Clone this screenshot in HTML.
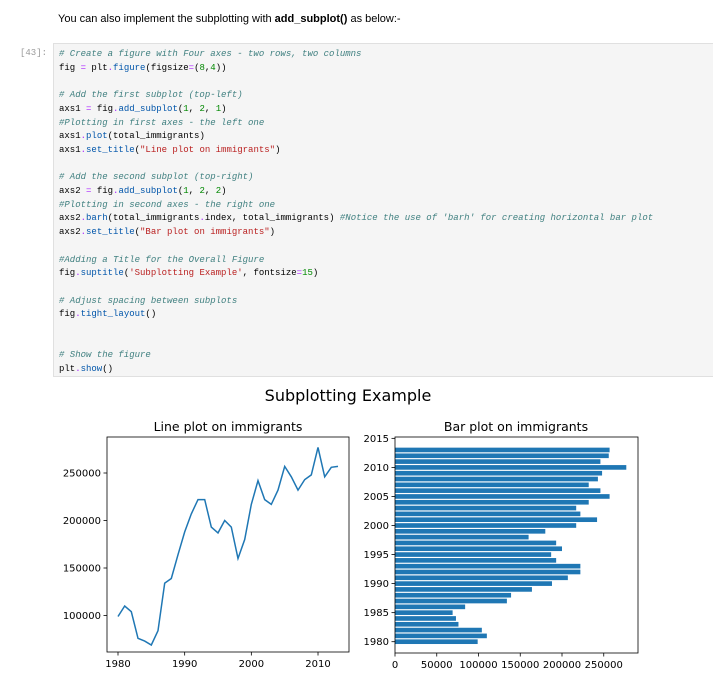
<!DOCTYPE html>
<html><head><meta charset="utf-8">
<style>
body{margin:0;width:713px;height:684px;background:#fff;overflow:hidden;position:relative;font-family:"Liberation Sans",sans-serif}
.intro{position:absolute;left:58px;top:13px;font-size:11px;color:#000}
.prompt{position:absolute;left:20px;top:48px;font:9px "Liberation Mono",monospace;color:#999}
.code{position:absolute;left:53px;top:43px;width:662px;height:334px;background:#f5f5f5;border:1px solid #e0e0e0;box-sizing:border-box}
pre{margin:0;position:absolute;left:5px;top:4px;font:9px/13.7px "Liberation Mono",monospace;color:#000}
.c{color:#408080;font-style:italic}.s{color:#ba2121}.n{color:#008800}.f{color:#0055aa}.o{color:#aa22ff}
svg{position:absolute;left:0;top:0}
</style></head><body>
<div class="intro">You can also implement the subplotting with <b>add_subplot()</b> as below:-</div>
<div class="prompt">[43]:</div>
<div class="code"><pre><span class="c"># Create a figure with Four axes - two rows, two columns</span>
fig <span class="o">=</span> plt<span class="o">.</span><span class="f">figure</span>(figsize<span class="o">=</span>(<span class="n">8</span>,<span class="n">4</span>))

<span class="c"># Add the first subplot (top-left)</span>
axs1 <span class="o">=</span> fig<span class="o">.</span><span class="f">add_subplot</span>(<span class="n">1</span>, <span class="n">2</span>, <span class="n">1</span>)
<span class="c">#Plotting in first axes - the left one</span>
axs1<span class="o">.</span><span class="f">plot</span>(total_immigrants)
axs1<span class="o">.</span><span class="f">set_title</span>(<span class="s">"Line plot on immigrants"</span>)

<span class="c"># Add the second subplot (top-right)</span>
axs2 <span class="o">=</span> fig<span class="o">.</span><span class="f">add_subplot</span>(<span class="n">1</span>, <span class="n">2</span>, <span class="n">2</span>)
<span class="c">#Plotting in second axes - the right one</span>
axs2<span class="o">.</span><span class="f">barh</span>(total_immigrants<span class="o">.</span>index, total_immigrants) <span class="c">#Notice the use of 'barh' for creating horizontal bar plot</span>
axs2<span class="o">.</span><span class="f">set_title</span>(<span class="s">"Bar plot on immigrants"</span>)

<span class="c">#Adding a Title for the Overall Figure</span>
fig<span class="o">.</span><span class="f">suptitle</span>(<span class="s">'Subplotting Example'</span>, fontsize<span class="o">=</span><span class="n">15</span>)

<span class="c"># Adjust spacing between subplots</span>
fig<span class="o">.</span><span class="f">tight_layout</span>()


<span class="c"># Show the figure</span>
plt<span class="o">.</span><span class="f">show</span>()</pre></div>
<svg id="fig" width="713" height="684" font-family="DejaVu Sans, Liberation Sans, sans-serif"></svg>
<script>
const years=[1980,1981,1982,1983,1984,1985,1986,1987,1988,1989,1990,1991,1992,1993,1994,1995,1996,1997,1998,1999,2000,2001,2002,2003,2004,2005,2006,2007,2008,2009,2010,2011,2012,2013];
const totals=[99000,110000,104000,76000,73000,69000,84000,134000,139000,164000,188000,207000,222000,222000,193000,187000,200000,193000,160000,180000,217000,242000,222000,217000,232000,257000,246000,232000,243000,248000,277000,246000,256000,257000];
const lineXTicks=[1980,1990,2000,2010];
const lineYTicks=[100000,150000,200000,250000];
const barXTicks=[0,50000,100000,150000,200000,250000];
const barYTicks=[1980,1985,1990,1995,2000,2005,2010,2015];
const NS='http://www.w3.org/2000/svg';
const svg=document.getElementById('fig');
function mk(t,a,p){const e=document.createElementNS(NS,t);for(const k in a)e.setAttribute(k,a[k]);(p||svg).appendChild(e);return e;}
// left axes
const L={x0:107,x1:349,y0:437,y1:652};
const lx=v=>118+(v-1980)*6.667;
const ly=v=>473+(250000-v)*0.00095;
// right axes
const R={x0:395,x1:638,y0:437,y1:653};
const bx=v=>395+v*0.000835;
const by=v=>641.7-(v-1980)*5.81;

let t=mk('text',{x:348,y:401,'font-size':16,'text-anchor':'middle',fill:'#000'});
t.textContent='Subplotting Example';
t=mk('text',{x:228,y:431,'font-size':12.5,'text-anchor':'middle',fill:'#000'});
t.textContent='Line plot on immigrants';
t=mk('text',{x:516,y:431,'font-size':12.5,'text-anchor':'middle',fill:'#000'});
t.textContent='Bar plot on immigrants';

// line
const pts=years.map((y,i)=>lx(y).toFixed(1)+','+ly(totals[i]).toFixed(1)).join(' ');
let pl=mk('polyline',{points:pts,fill:'none',stroke:'#1f77b4','stroke-width':1.5});

lineXTicks.forEach(v=>{const x=lx(v);mk('line',{x1:x,x2:x,y1:L.y1,y2:L.y1+3.5,stroke:'#000','stroke-width':0.8});
 const e=mk('text',{x:x,y:L.y1+15,'font-size':10,'text-anchor':'middle'});e.textContent=v;});
lineYTicks.forEach(v=>{const y=ly(v);mk('line',{x1:L.x0-3.5,x2:L.x0,y1:y,y2:y,stroke:'#000','stroke-width':0.8});
 const e=mk('text',{x:L.x0-6,y:y+3.5,'font-size':10,'text-anchor':'end'});e.textContent=v;});
let f=mk('rect',{x:L.x0,y:L.y0,width:L.x1-L.x0,height:L.y1-L.y0,fill:'none',stroke:'#000','stroke-width':0.8});


// bars
years.forEach((y,i)=>{const h=0.8*5.81;const b=mk('rect',{x:bx(0),y:by(y)-h/2,width:bx(totals[i])-bx(0),height:h,fill:'#1f77b4'});
 });
barXTicks.forEach(v=>{const x=bx(v);mk('line',{x1:x,x2:x,y1:R.y1,y2:R.y1+3.5,stroke:'#000','stroke-width':0.8});
 const e=mk('text',{x:x,y:R.y1+15,'font-size':10,'text-anchor':'middle'});e.textContent=v;});
barYTicks.forEach(v=>{const y=by(v);mk('line',{x1:R.x0-3.5,x2:R.x0,y1:y,y2:y,stroke:'#000','stroke-width':0.8});
 const e=mk('text',{x:R.x0-6,y:y+3.5,'font-size':10,'text-anchor':'end'});e.textContent=v;});
f=mk('rect',{x:R.x0,y:R.y0,width:R.x1-R.x0,height:R.y1-R.y0,fill:'none',stroke:'#000','stroke-width':0.8});

</script>
</body></html>
